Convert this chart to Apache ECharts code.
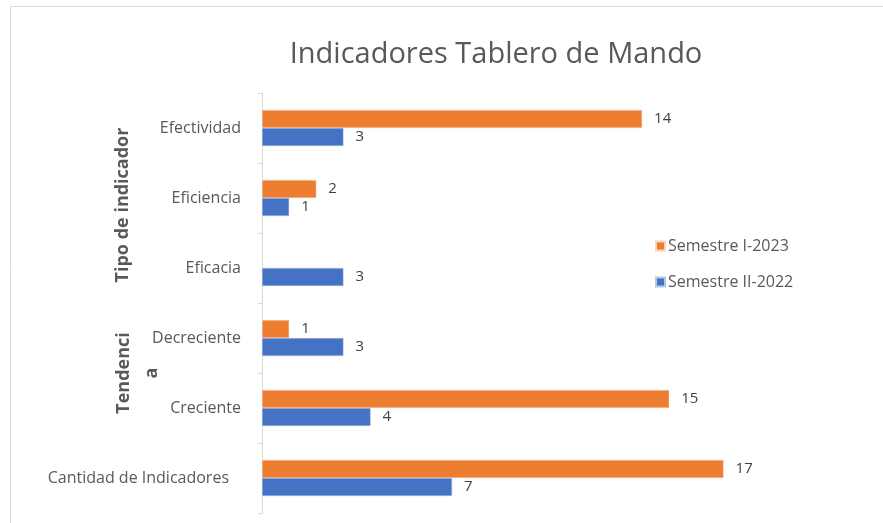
<!DOCTYPE html>
<html><head><meta charset="utf-8">
<script src="https://cdn.jsdelivr.net/npm/echarts@6/dist/echarts.min.js"></script>
<style>html,body{margin:0;padding:0;background:#fff}#c{width:883px;height:523px}</style>
</head><body><div id="c"></div>
<script>
// Categories from bottom to top (ECharts category y-axis grows upward)
const categories = ['Cantidad de Indicadores', 'Creciente', 'Decreciente', 'Eficacia', 'Eficiencia', 'Efectividad'];
const semestreI2023 = [17, 15, 1, null, 2, 14];
const semestreII2022 = [7, 4, 3, 3, 1, 3];
const seriesNames = ['Semestre I-2023', 'Semestre II-2022'];
const groupNames = ['Tipo de indicador', 'Tendencia'];
const title = 'Indicadores Tablero de Mando';

const FONT = 'Open Sans';
const chart = echarts.init(document.getElementById('c'), null, {renderer: 'canvas'});
const labelStyle = {show: true, position: 'right', distance: 12, color: '#404040', fontSize: 15, fontFamily: FONT};
// The ungrouped category spans both label levels, so it sits a little further left
const categoryData = categories.map((c, i) => i === 0 ? {value: c, textStyle: {padding: [0, 12, 0, 0]}} : c);
chart.setOption({
  animation: false,
  backgroundColor: '#fff',
  title: {
    text: title, left: 491, top: 35, textAlign: 'center',
    textStyle: {fontFamily: FONT, fontSize: 29, fontWeight: 500, color: '#595959'}
  },
  legend: {
    orient: 'vertical', left: 655, top: 238, padding: 0,
    data: seriesNames,
    itemWidth: 9, itemHeight: 9, itemGap: 20,
    icon: 'rect',
    textStyle: {fontFamily: FONT, fontSize: 16, color: '#595959', padding: [0,0,0,-2]}
  },
  grid: {left: 262, top: 93, width: 543, height: 420, containLabel: false},
  xAxis: {type: 'value', min: 0, max: 20, show: false},
  yAxis: {
    type: 'category', data: categoryData,
    axisLine: {show: true, lineStyle: {color: '#d9d9d9'}},
    axisTick: {show: true, length: 4, lineStyle: {color: '#d9d9d9'}},
    axisLabel: {margin: 21, fontFamily: FONT, fontSize: 16, color: '#595959'}
  },
  series: [
    {name: seriesNames[0], type: 'bar', data: semestreI2023, barWidth: 18, barGap: '0%',
     itemStyle: {color: '#ED7D31', borderColor: '#fbd3b6', borderWidth: 0.5}, label: labelStyle},
    {name: seriesNames[1], type: 'bar', data: semestreII2022, barWidth: 18, barGap: '0%',
     itemStyle: {color: '#4472C4', borderColor: '#b4c7e7', borderWidth: 0.5}, label: labelStyle}
  ],
  graphic: [
    {type: 'line', shape: {x1: 10, y1: 6.5, x2: 883, y2: 6.5}, style: {stroke: '#d9d9d9', lineWidth: 1}},
    {type: 'line', shape: {x1: 10.5, y1: 6, x2: 10.5, y2: 523}, style: {stroke: '#d9d9d9', lineWidth: 1}},
    {type: 'text', x: 123, y: 205, rotation: Math.PI / 2,
     style: {text: groupNames[0], fontFamily: FONT, fontSize: 18, fontWeight: 'bold', fill: '#595959', align: 'center', verticalAlign: 'middle'}},
    {type: 'text', x: 124, y: 373, rotation: Math.PI / 2,
     style: {text: 'Tendenci', fontFamily: FONT, fontSize: 18, fontWeight: 'bold', fill: '#595959', align: 'center', verticalAlign: 'middle'}},
    {type: 'text', x: 152, y: 373, rotation: Math.PI / 2,
     style: {text: 'a', fontFamily: FONT, fontSize: 18, fontWeight: 'bold', fill: '#595959', align: 'center', verticalAlign: 'middle'}}
  ]
});
</script></body></html>
